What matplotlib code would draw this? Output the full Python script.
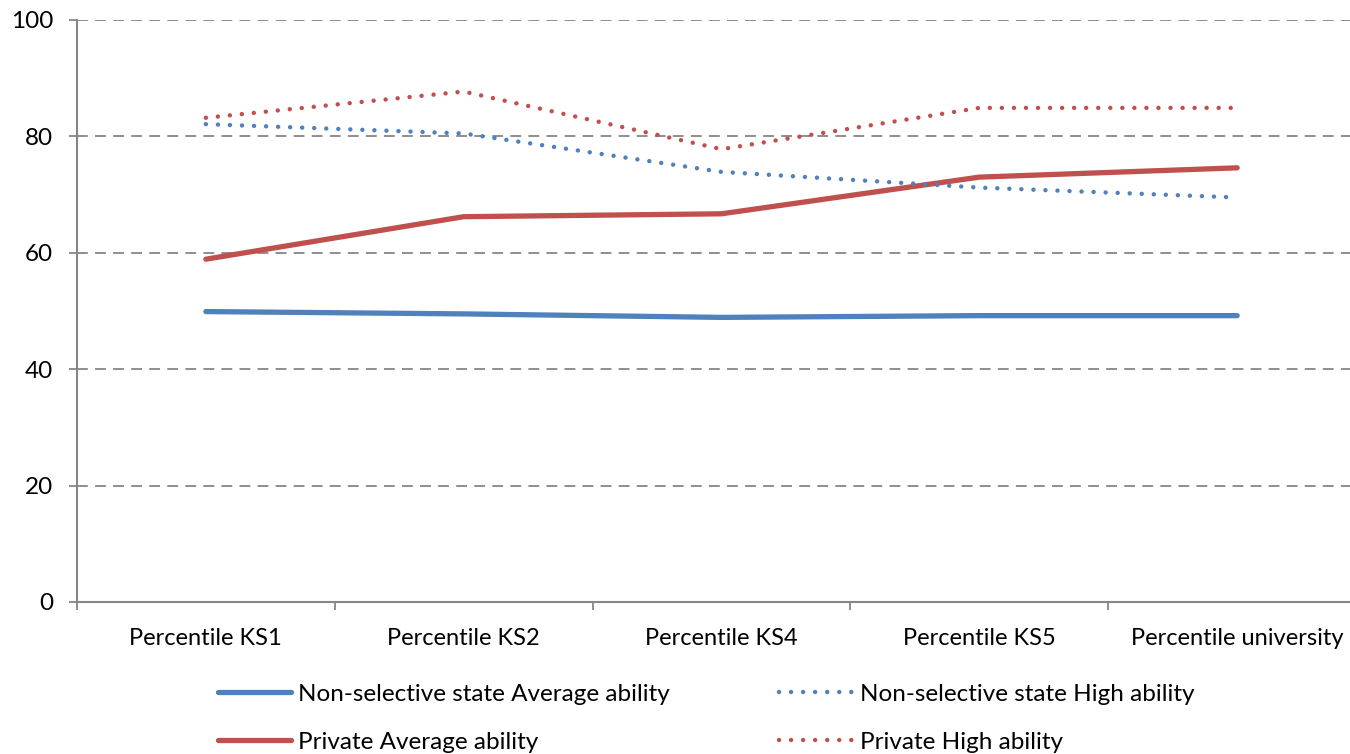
import matplotlib
matplotlib.use('Agg')
import matplotlib.pyplot as plt
from matplotlib.ticker import FixedLocator

plt.rcParams['font.family'] = ['Lato', 'DejaVu Sans']

categories = ['Percentile KS1', 'Percentile KS2', 'Percentile KS4', 'Percentile KS5', 'Percentile university']
ns_average = [49.9, 49.5, 48.9, 49.2, 49.2]
ns_high = [82.1, 80.5, 73.9, 71.2, 69.5]
private_average = [58.9, 66.2, 66.7, 73.0, 74.6]
private_high = [83.2, 87.7, 77.8, 84.9, 84.9]

blue = '#4F81BD'
red = '#C0504D'
grey = '#868686'

fig = plt.figure(figsize=(13.5, 7.54), dpi=100)
ax = fig.add_axes([0.057, 0.2016, 0.9549, 0.7719])

x = list(range(len(categories)))
dot = (0, (0.01, 2.7))
ax.plot(x, ns_average, color=blue, lw=3.8, solid_capstyle='round', label='Non-selective state Average ability', zorder=3)
ax.plot(x, private_average, color=red, lw=3.8, solid_capstyle='round', label='Private Average ability', zorder=3)
ax.plot(x, ns_high, color=blue, lw=3.2, linestyle=dot, dash_capstyle='round', label='Non-selective state High ability', zorder=3)
ax.plot(x, private_high, color=red, lw=3.2, linestyle=dot, dash_capstyle='round', label='Private High ability', zorder=3)

ax.set_xlim(-0.5, len(categories) - 0.5)
ax.set_ylim(0, 100)
ax.set_yticks([0, 20, 40, 60, 80, 100])
for t in [20, 40, 60, 80, 100]:
    ax.axhline(t, color=grey, lw=1.3, linestyle=(0, (6, 4)), zorder=1)

ax.set_xticks(x)
ax.set_xticklabels(categories)
ax.xaxis.set_minor_locator(FixedLocator([i - 0.5 for i in range(len(categories) + 1)]))
ax.tick_params(axis='x', which='major', length=0, pad=19, labelsize=17)
ax.tick_params(axis='x', which='minor', length=6, width=1.3, color=grey, direction='out')
ax.tick_params(axis='y', length=6, width=1.3, color=grey, direction='out', labelsize=17.5, pad=11)

for s in ['top', 'right']:
    ax.spines[s].set_visible(False)
for s in ['left', 'bottom']:
    ax.spines[s].set_color(grey)
    ax.spines[s].set_linewidth(1.5)

fig.legend(loc='upper left', bbox_to_anchor=(0.1615, 0.093), ncol=2, frameon=False,
           fontsize=17.5, handlelength=3.0, handletextpad=0.3, columnspacing=4.5,
           labelspacing=1.1, borderpad=0, borderaxespad=0)

fig.savefig('out.png', dpi=100)
